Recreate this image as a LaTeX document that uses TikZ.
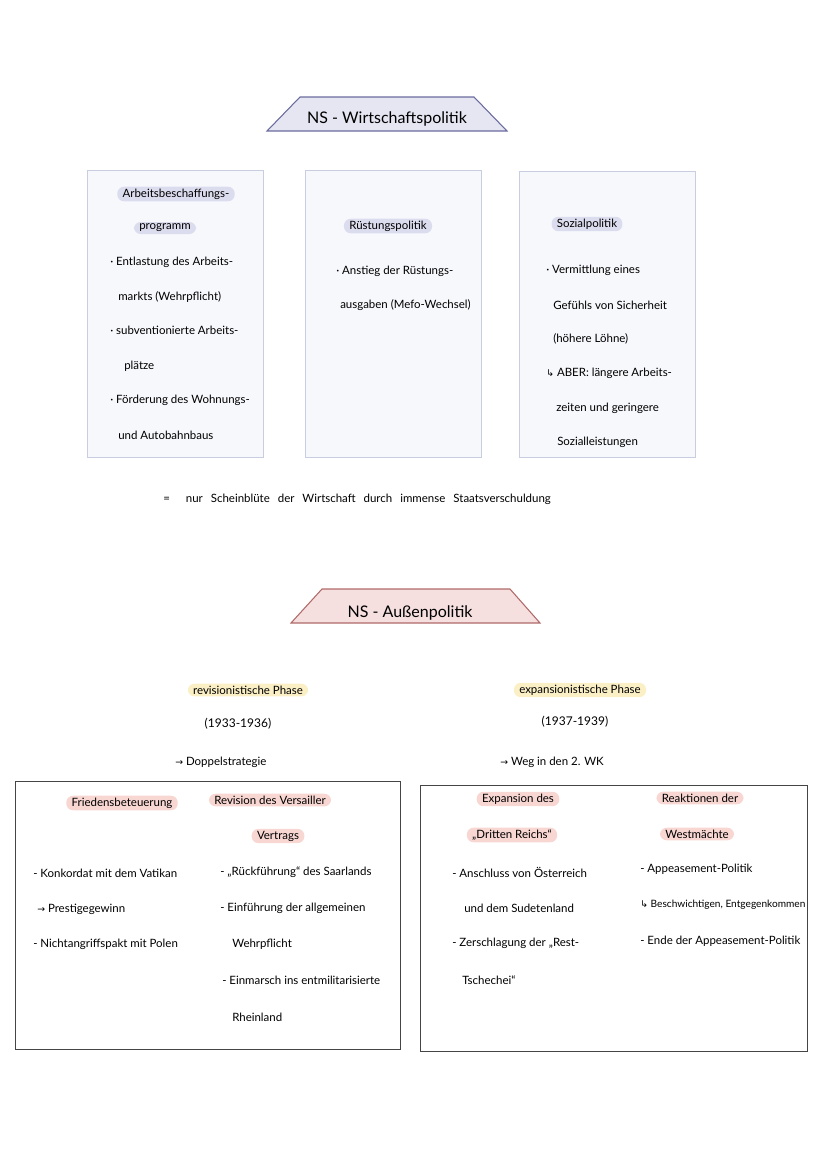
\documentclass[tikz,border=0pt]{standalone}
\usepackage{fontspec}
\setmainfont{Lato}
\newfontfamily\symfont{DejaVu Sans}
\definecolor{wtfill}{HTML}{E6E6F3}
\definecolor{wtline}{HTML}{6B6B9E}
\definecolor{cardfill}{HTML}{F7F8FC}
\definecolor{cardline}{HTML}{C9CDE0}
\definecolor{hlblue}{HTML}{DCDCEF}
\definecolor{apfill}{HTML}{F5DFDF}
\definecolor{apline}{HTML}{B06A6A}
\definecolor{hlyellow}{HTML}{FBEFC6}
\definecolor{hlred}{HTML}{F8D7D3}
\definecolor{framegray}{HTML}{454545}
\newcommand{\ra}{{\symfont\scriptsize →}}
\newcommand{\rh}{{\symfont\scriptsize ↳}}
\newcommand{\hand}{\fontsize{8.6}{10}\selectfont}
\begin{document}
\begin{tikzpicture}[
    x=0.75pt, y=-0.75pt,
    card/.style={draw=cardline, fill=cardfill, line width=0.6pt},
    frame/.style={draw=framegray, line width=0.7pt},
    hilite/.style={fill=#1, rounded corners=5pt, inner xsep=4pt, inner ysep=1.5pt, font=\hand},
    item/.style={anchor=west, inner sep=0pt, font=\hand},
    headline/.style={font=\fontsize{12}{14}\selectfont},
    years/.style={font=\small},
]

\useasboundingbox (0,0) rectangle (828,1171);

% Wirtschaftspolitik
\draw[fill=wtfill, draw=wtline, line width=0.8pt] (267,131) -- (300,97) -- (474,97) -- (507,131) -- cycle;
\node[headline] (wtitle) at (387,119) {NS - Wirtschaftspolitik};

\draw[card] (87,170) rectangle (263,457);
\draw[card] (305,170) rectangle (481,457);
\draw[card] (519,171) rectangle (695,457);

% Arbeitsbeschaffung
\node[hilite=hlblue] (arbA) at (176,194) {Arbeitsbeschaffungs-};
\node[hilite=hlblue] (arbB) at (165,228) {programm};
\node[item] (arb1) at (110,262) {· Entlastung des Arbeits-};
\node[item] (arb2) at (118,297) {markts (Wehrpflicht)};
\node[item] (arb3) at (110,330) {· subventionierte Arbeits-};
\node[item] (arb4) at (124,366) {plätze};
\node[item] (arb5) at (110,400) {· Förderung des Wohnungs-};
\node[item] (arb6) at (118,435) {und Autobahnbaus};

% Ruestung
\node[hilite=hlblue] (rue) at (388,226) {Rüstungspolitik};
\node[item] (rue1) at (336,271) {· Anstieg der Rüstungs-};
\node[item] (rue2) at (340,305) {ausgaben (Mefo-Wechsel)};

% Sozial
\node[hilite=hlblue] (soz) at (587,224) {Sozialpolitik};
\node[item] (soz1) at (546,270) {· Vermittlung eines};
\node[item] (soz2) at (553,305) {Gefühls von Sicherheit};
\node[item] (soz3) at (553,339) {(höhere Löhne)};
\node[item] (soz4) at (546,373) {\rh\ ABER: längere Arbeits-};
\node[item] (soz5) at (556,408) {zeiten und geringere};
\node[item] (soz6) at (557,442) {Sozialleistungen};

% Fazit
\node[item] (fazit) at (163,499) {\spaceskip=6pt =\hspace{12pt}nur Scheinblüte der Wirtschaft durch immense Staatsverschuldung};

% Aussenpolitik
\draw[fill=apfill, draw=apline, line width=0.8pt] (291,623) -- (322,589) -- (510,589) -- (540,623) -- cycle;
\node[headline] (atitle) at (410,613) {NS - Außenpolitik};

\node[hilite=hlyellow] (revP) at (248,690) {revisionistische Phase};
\node[years] (revJ) at (238,724) {(1933-1936)};
\node[item] (revS) at (175,762) {\ra\ Doppelstrategie};

\node[hilite=hlyellow] (expP) at (580,690) {expansionistische Phase};
\node[years] (expJ) at (575,722) {(1937-1939)};
\node[item] (expS) at (500,762) {\ra\ Weg in den 2. WK};

\draw[frame] (15,781) rectangle (400,1049);
\draw[frame] (420,785) rectangle (807,1051);

% revisionistische Phase
\node[hilite=hlred] (fried) at (122,803) {Friedensbeteuerung};
\node[hilite=hlred] (versA) at (270,800) {Revision des Versailler};
\node[hilite=hlred] (versB) at (278,836) {Vertrags};
\node[item] (fried1) at (33,873) {- Konkordat mit dem Vatikan};
\node[item] (fried2) at (37,909) {\ra\ Prestigegewinn};
\node[item] (fried3) at (33,944) {- Nichtangriffspakt mit Polen};
\node[item] (vers1) at (220,872) {- „Rückführung“ des Saarlands};
\node[item] (vers2) at (220,908) {- Einführung der allgemeinen};
\node[item] (vers3) at (232,944) {Wehrpflicht};
\node[item] (vers4) at (222,980) {- Einmarsch ins entmilitarisierte};
\node[item] (vers5) at (232,1017) {Rheinland};

% expansionistische Phase
\node[hilite=hlred] (expaA) at (518,799) {Expansion des};
\node[hilite=hlred] (expaB) at (512,835) {„Dritten Reichs“};
\node[hilite=hlred] (westA) at (700,798) {Reaktionen der};
\node[hilite=hlred] (westB) at (697,834) {Westmächte};
\node[item] (expa1) at (452,872) {- Anschluss von Österreich};
\node[item] (expa2) at (464,908) {und dem Sudetenland};
\node[item] (expa3) at (452,943) {- Zerschlagung der „Rest-};
\node[item] (expa4) at (462,980) {Tschechei“};
\node[item] (west1) at (640,869) {- Appeasement-Politik};
\node[item, font=\fontsize{7.6}{9}\selectfont] (west2) at (640,905) {\rh\ Beschwichtigen, Entgegenkommen};
\node[item] (west3) at (640,941) {- Ende der Appeasement-Politik};

\end{tikzpicture}
\end{document}
